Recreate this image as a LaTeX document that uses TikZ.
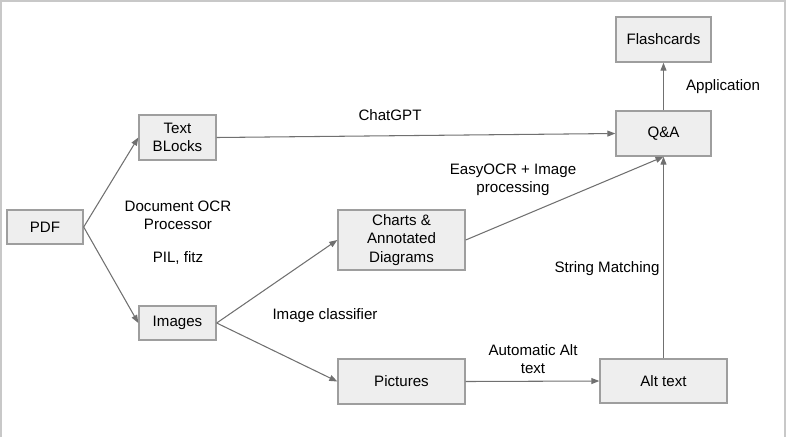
\documentclass[tikz,border=0pt]{standalone}
\usepackage{fontspec}
\setmainfont{Liberation Sans}
\usetikzlibrary{arrows.meta,positioning}
\definecolor{boxfill}{HTML}{EEEEEE}
\definecolor{boxline}{HTML}{9E9E9E}
\definecolor{arrowline}{HTML}{707070}
\definecolor{frameline}{HTML}{C8C8C8}
\tikzset{
  block/.style={draw=boxline, fill=boxfill, line width=0.8pt, align=center, inner sep=0pt},
  lbl/.style={align=center, inner sep=0pt},
}

\begin{document}
\begin{tikzpicture}[x=0.02cm,y=-0.02cm,font=\fontsize{8.6}{10.3}\selectfont,
    >={Triangle[length=1.6mm,width=1.2mm]},
    every edge/.style={draw=arrowline,line width=0.6pt}]
    \useasboundingbox (0,0) rectangle (787,437);
    \draw[frameline,line width=0.6pt] (1,437) -- (1,1) -- (785,1) -- (785,437);

          \node[block,minimum width=1.52cm,minimum height=0.68cm] (pdf)    at (45,227)    {PDF};
          \node[block,minimum width=1.54cm,minimum height=0.9cm]  (text)   at (177.5,137.5) {Text\\BLocks};
          \node[block,minimum width=1.54cm,minimum height=0.68cm] (images) at (177.5,323) {Images};
          \node[block,minimum width=2.54cm,minimum height=1.2cm]  (charts) at (401.5,240) {Charts \&\\Annotated\\Diagrams};
          \node[block,minimum width=2.54cm,minimum height=0.9cm]  (pics)   at (401.5,381.5) {Pictures};
          \node[block,minimum width=2.54cm,minimum height=0.88cm] (alt)    at (663.5,381) {Alt text};
          \node[block,minimum width=1.9cm,minimum height=0.9cm]   (qa)     at (663.5,133.5) {Q\&A};
          \node[block,minimum width=1.9cm,minimum height=0.9cm]   (cards)  at (663.5,39.5) {Flashcards};

          \node[lbl] (chatgpt) at (390,115) {ChatGPT};
          \node[lbl] (ocr)     at (178,215) {Document OCR\\Processor};
          \node[lbl] (pil)     at (178,258) {PIL, fitz};
          \node[lbl] (easy)    at (513,180) {EasyOCR + Image\\processing};
          \node[lbl] (match)   at (607,269) {String Matching};
          \node[lbl] (classif) at (325,316) {Image classifier};
          \node[lbl] (auto)    at (533,359) {Automatic Alt\\text};
          \node[lbl] (app)     at (723,87)  {Application};

          \path[->] (pdf.east)    edge (text.west)
                    (pdf.east)    edge (images.west)
                    (text.east)   edge (qa.west)
                    (images.east) edge (charts.west)
                    (images.east) edge (pics.west)
                    (charts.east) edge (qa.south)
                    (pics.east)   edge (alt.west)
                    (alt.north)   edge (qa.south)
                    (qa.north)    edge (cards.south);
        \end{tikzpicture}
\end{document}
